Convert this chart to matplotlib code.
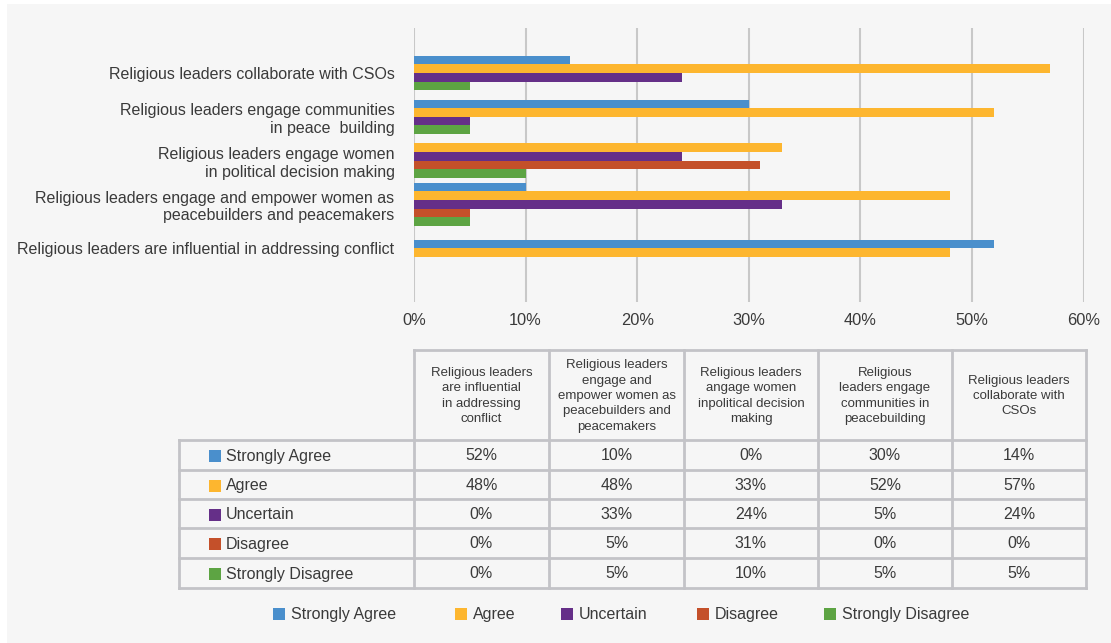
import numpy as np
import matplotlib
matplotlib.use("Agg")
import matplotlib.pyplot as plt
from matplotlib.patches import Rectangle

plt.rcParams['font.family'] = ['Liberation Sans', 'DejaVu Sans']

# survey statements, bottom-to-top on the chart / left-to-right in the table
bar_labels = [
    "Religious leaders are influential in addressing conflict",
    "Religious leaders engage and empower women as\npeacebuilders and peacemakers",
    "Religious leaders engage women\nin political decision making",
    "Religious leaders engage communities\nin peace  building",
    "Religious leaders collaborate with CSOs",
]
table_headers = [
    "Religious leaders\nare influential\nin addressing\nconflict",
    "Religious leaders\nengage and\nempower women as\npeacebuilders and\npeacemakers",
    "Religious leaders\nangage women\ninpolitical decision\nmaking",
    "Religious\nleaders engage\ncommunities in\npeacebuilding",
    "Religious leaders\ncollaborate with\nCSOs",
]
series_names = ["Strongly Agree", "Agree", "Uncertain", "Disagree", "Strongly Disagree"]
strongly_agree = [52, 10, 0, 30, 14]
agree = [48, 48, 33, 52, 57]
uncertain = [0, 33, 24, 5, 24]
disagree = [0, 5, 31, 0, 0]
strongly_disagree = [0, 5, 10, 5, 5]
colors = ['#4A8FCC', '#FDB62F', '#652F88', '#C4502A', '#5DA443']

series = [strongly_agree, agree, uncertain, disagree, strongly_disagree]
TEXT = '#3A3A3A'
W, H = 1111, 643

fig = plt.figure(figsize=(W / 100, H / 100), dpi=100)
fig.patch.set_facecolor('white')

# pixel-space overlay for the panel, table and legend
ov = fig.add_axes([0, 0, 1, 1])
ov.set_xlim(0, W)
ov.set_ylim(H, 0)
ov.axis('off')
ov.add_patch(Rectangle((7, 4), W, H, facecolor='#F6F6F6', edgecolor='none', zorder=0))

# bar chart: zero answers are left out and the remaining bars packed per statement
ax = fig.add_axes([414 / W, 1 - 302 / H, (1083.5 - 414) / W, 274 / H])
ax.set_facecolor('none')
bar_h = 0.197
for i in range(len(bar_labels)):
    vals = [(s[i], c) for s, c in zip(series, colors) if s[i] > 0]
    n = len(vals)
    for k, (v, c) in enumerate(vals):
        y = i + ((n - 1) / 2 - k) * bar_h
        ax.barh(y, v, height=bar_h, color=c, zorder=3)
ax.set_xlim(0, 60)
ax.set_ylim(-1.23, 5.03)
ax.set_xticks(np.arange(0, 61, 10))
ax.set_xticklabels([f"{t}%" for t in range(0, 61, 10)])
ax.set_yticks(range(len(bar_labels)))
ax.set_yticklabels(bar_labels, fontsize=11.5, color=TEXT)
ax.tick_params(axis='x', length=0, pad=8, labelsize=11.8, labelcolor=TEXT)
ax.tick_params(axis='y', length=0, pad=14)
ax.grid(axis='x', color='#C8C8C8', linewidth=1.5, zorder=0)
for sp in ax.spines.values():
    sp.set_visible(False)

# data table
col_x = [414, 549, 684, 818, 952, 1086]
row_y = [440, 470, 499, 528, 558, 588]
border = dict(color='#C3C3C7', linewidth=2, zorder=2)
ov.plot([col_x[0], col_x[-1]], [350, 350], **border)
for y in row_y:
    ov.plot([179, col_x[-1]], [y, y], **border)
ov.plot([179, 179], [row_y[0], row_y[-1]], **border)
for x in col_x:
    ov.plot([x, x], [350, row_y[-1]], **border)

for j, head in enumerate(table_headers):
    cx = (col_x[j] + col_x[j + 1]) / 2
    ov.text(cx, 396, head, ha='center', va='center', fontsize=9.5,
            color=TEXT, linespacing=1.38)
for r, (name, s, c) in enumerate(zip(series_names, series, colors)):
    cy = (row_y[r] + row_y[r + 1]) / 2 + 1
    ov.add_patch(Rectangle((209, cy - 6), 12, 12, facecolor=c, edgecolor='none'))
    ov.text(226, cy, name, ha='left', va='center', fontsize=11.5, color=TEXT)
    for j, v in enumerate(s):
        cx = (col_x[j] + col_x[j + 1]) / 2
        ov.text(cx, cy, f"{v}%", ha='center', va='center', fontsize=11.5, color=TEXT)

# legend
leg_x = [273, 455, 561, 697, 824]
for name, c, lx in zip(series_names, colors, leg_x):
    ov.add_patch(Rectangle((lx, 608), 12, 12, facecolor=c, edgecolor='none'))
    ov.text(lx + 18, 614.5, name, ha='left', va='center', fontsize=11.5, color=TEXT)

fig.savefig('out.png', dpi=100, facecolor=fig.get_facecolor())
